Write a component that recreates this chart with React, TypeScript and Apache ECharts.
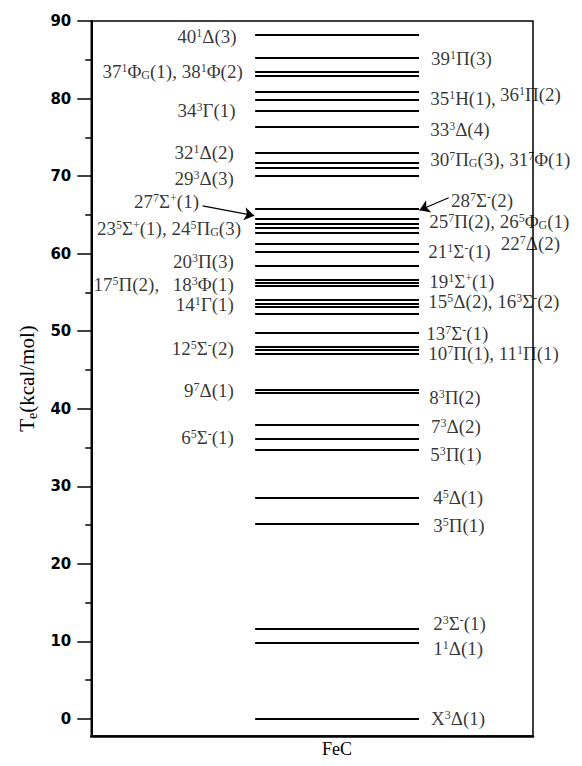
import React, { useEffect, useRef } from 'react';
import * as echarts from 'echarts';

// ---- data ----
const levelEnergies = [
  0, 9.8, 11.6, 25.2, 28.5, 34.7, 36.1, 38.0, 42.1, 42.4,
  47.1, 47.6, 48.0, 49.8, 52.3, 53.2, 53.6, 54.0, 55.9, 56.3,
  56.6, 58.4, 60.2, 61.3, 62.7, 63.3, 63.9, 64.5, 65.8, 70.0,
  71.1, 71.7, 73.0, 76.4, 78.4, 79.9, 80.9, 82.9, 83.5, 85.2, 88.2,
];

const leftLabelTexts = [
  '40^1Δ(3)', '37^1Φ_G(1), 38^1Φ(2)', '34^3Γ(1)', '32^1Δ(2)', '29^3Δ(3)',
  '27^7Σ^+(1)', '23^5Σ^+(1), 24^5Π_G(3)', '20^3Π(3)', '18^3Φ(1)', '17^5Π(2),',
  '14^1Γ(1)', '12^5Σ^-(2)', '9^7Δ(1)', '6^5Σ^-(1)',
];
const leftLabelEnergies = [88.0, 83.5, 78.5, 73.0, 69.7, 66.7, 63.2, 59.0, 56.0, 56.0, 53.4, 47.8, 42.3, 36.3];

const rightLabelTexts = [
  '39^1Π(3)', '35^1H(1),', '36^1Π(2)', '33^3Δ(4)', '30^7Π_G(3), 31^7Φ(1)',
  '28^7Σ^-(2)', '25^7Π(2), 26^5Φ_G(1)', '22^7Δ(2)', '21^1Σ^-(1)', '19^1Σ^+(1)',
  '15^5Δ(2), 16^3Σ^-(2)', '13^7Σ^-(1)', '10^7Π(1), 11^1Π(1)', '8^3Π(2)', '7^3Δ(2)',
  '5^3Π(1)', '4^5Δ(1)', '3^5Π(1)', '2^3Σ^-(1)', '1^1Δ(1)', 'X^3Δ(1)',
];
const rightLabelEnergies = [85.2, 80.0, 80.5, 76.0, 72.2, 66.8, 64.1, 61.3, 60.3, 56.4, 53.8, 49.7, 47.1, 41.5, 37.7, 34.1, 28.5, 25.0, 12.3, 9.1, 0.0];

// arrows: [fromX, fromE, toX, toE]
const arrowLeft = [25.2, 66.15, 36.9, 64.9];
const arrowRight = [80.9, 67.2, 74.3, 65.6];

const yTickValues = [0, 10, 20, 30, 40, 50, 60, 70, 80, 90];
const yMinorTickValues = [5, 15, 25, 35, 45, 55, 65, 75, 85];
const moleculeName = 'FeC';

// ---- layout (x in axis units 0..100) ----
const LEVEL_X0 = 37.1;
const LEVEL_X1 = 74.2;
const leftLabelX = [33.0, 34.4, 32.8, 32.4, 32.4, 24.5, 34.0, 32.4, 32.4, 0.4, 32.4, 32.4, 32.4, 32.4];
const leftLabelSide = ['L', 'L', 'L', 'L', 'L', 'L', 'L', 'L', 'L', 'R', 'L', 'L', 'L', 'L'];
const rightLabelX = [76.8, 76.6, 92.4, 76.6, 76.6, 81.3, 76.4, 92.6, 76.2, 76.4, 76.2, 75.7, 76.2, 76.4, 76.8, 76.6, 77.3, 77.3, 77.3, 77.3, 76.8];

const SERIF = 'Liberation Serif';

function toRich(s: string): string {
  let out = '';
  let buf = '';
  const flush = () => {
    if (buf) {
      out += `{n|${buf}}`;
      buf = '';
    }
  };
  for (let i = 0; i < s.length; i++) {
    const c = s[i];
    if ((c === '^' || c === '_') && i + 1 < s.length) {
      flush();
      out += `{${c === '^' ? 'sup' : 'sub'}|${s[i + 1]}}`;
      i++;
    } else {
      buf += c;
    }
  }
  flush();
  return out;
}

const richStyles = {
  n: { fontFamily: SERIF, fontSize: 19, lineHeight: 19, color: '#000' },
  sup: { fontFamily: SERIF, fontSize: 12, lineHeight: 12, padding: [0, 0, 7, 0], verticalAlign: 'top', color: '#000' },
  sub: { fontFamily: SERIF, fontSize: 12, lineHeight: 12, padding: [5, 0, 0, 0], verticalAlign: 'bottom', color: '#000' },
};

export default function App() {
  const ref = useRef<HTMLDivElement>(null);

  useEffect(() => {
    if (!ref.current) return;
    const chart = echarts.init(ref.current, undefined, { renderer: 'svg' });

    const levelData = levelEnergies.map((e) => ({ coords: [[LEVEL_X0, e], [LEVEL_X1, e]] }));

    const labelItems: any[] = [];
    leftLabelTexts.forEach((t, i) => {
      const side = leftLabelSide[i];
      labelItems.push({
        value: [leftLabelX[i], leftLabelEnergies[i]],
        label: {
          show: true,
          position: side === 'L' ? 'left' : 'right',
          distance: 0,
          formatter: toRich(t),
          rich: richStyles,
        },
      });
    });
    rightLabelTexts.forEach((t, i) => {
      labelItems.push({
        value: [rightLabelX[i], rightLabelEnergies[i]],
        label: {
          show: true,
          position: 'right',
          distance: 0,
          formatter: toRich(t),
          rich: richStyles,
        },
      });
    });

    const arrows = [arrowLeft, arrowRight].map((a) => ({ coords: [[a[0], a[1]], [a[2], a[3]]] }));

    chart.setOption({
      animation: false,
      backgroundColor: '#fff',
      grid: {
        left: 80,
        right: 41,
        top: 13,
        bottom: 18,
        show: true,
        borderColor: '#000',
        borderWidth: 1.5,
        backgroundColor: 'transparent',
      },
      xAxis: {
        type: 'value',
        min: 0,
        max: 100,
        splitLine: { show: false },
        axisLine: { show: true, onZero: false, lineStyle: { color: '#000', width: 2.5 } },
        axisTick: { show: false },
        axisLabel: {
          customValues: [(LEVEL_X0 + LEVEL_X1) / 2],
          formatter: () => moleculeName,
          fontFamily: SERIF,
          fontSize: 18,
          color: '#000',
          margin: 4,
        },
      },
      yAxis: [
        {
          type: 'value',
          min: -2.2,
          max: 90,
          position: 'left',
          splitLine: { show: false },
          axisLine: { show: true, onZero: false, lineStyle: { color: '#000', width: 2 } },
          axisTick: { show: true, customValues: yTickValues, length: 14, lineStyle: { color: '#000', width: 1.5 } },
          axisLabel: {
            customValues: yTickValues,
            margin: 20,
            fontFamily: 'DejaVu Sans',
            fontWeight: 'bold',
            fontSize: 15,
            color: '#000',
          },
          name: '{a|T}{b|e}{a|(kcal/mol)}',
          nameLocation: 'middle',
          nameGap: 42,
          nameTextStyle: {
            rich: {
              a: { fontFamily: SERIF, fontSize: 21, lineHeight: 26, color: '#000' },
              b: { fontFamily: SERIF, fontSize: 14, lineHeight: 14, verticalAlign: 'bottom', color: '#000' },
            },
          },
        },
        {
          type: 'value',
          min: -2.2,
          max: 90,
          position: 'left',
          splitLine: { show: false },
          axisLine: { show: false },
          axisTick: { show: true, customValues: yMinorTickValues, length: 6, lineStyle: { color: '#000', width: 1.5 } },
          axisLabel: { show: false },
        },
      ],
      series: [
        {
          type: 'lines',
          coordinateSystem: 'cartesian2d',
          polyline: false,
          silent: true,
          lineStyle: { color: '#000', width: 2, opacity: 1 },
          data: levelData,
        },
        {
          type: 'lines',
          coordinateSystem: 'cartesian2d',
          silent: true,
          symbol: ['none', 'arrow'],
          symbolSize: 10,
          lineStyle: { color: '#000', width: 1.2, opacity: 1 },
          data: arrows,
        },
        {
          type: 'scatter',
          silent: true,
          symbolSize: 1,
          itemStyle: { color: 'transparent' },
          clip: false,
          data: labelItems,
        },
      ],
    });

    return () => chart.dispose();
  }, []);

  return <div ref={ref} style={{ width: 566, height: 750 }} />;
}
